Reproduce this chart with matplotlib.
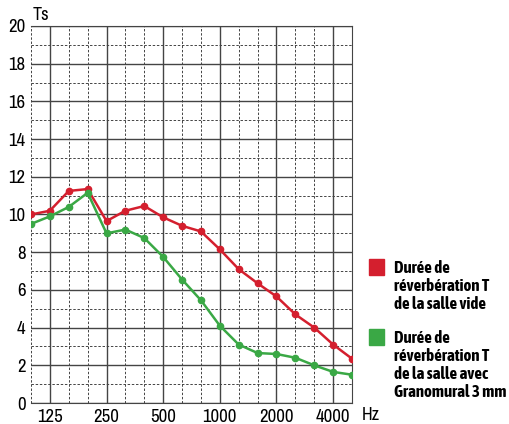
import numpy as np
import matplotlib
matplotlib.use("Agg")
import matplotlib.pyplot as plt
from matplotlib.patches import Rectangle
from matplotlib import font_manager

fonts = font_manager.fontManager.ttflist
names = sorted({f.name for f in fonts})
narrow = [n for n in names if "Narrow" in n or "Condensed" in n]


def wnum(w):
    return w if isinstance(w, int) else font_manager.weight_dict.get(w, 400)


bold_narrow = sorted({f.name for f in fonts if f.name in narrow and wnum(f.weight) >= 600})
main_font = narrow[0] if narrow else "Roboto"
legend_font = bold_narrow[0] if bold_narrow else main_font
plt.rcParams['font.family'] = [main_font, 'DejaVu Sans']

freqs = [100, 125, 160, 200, 250, 315, 400, 500, 630, 800,
         1000, 1250, 1600, 2000, 2500, 3150, 4000, 5000]
t_vide = [10.0, 10.2, 11.25, 11.35, 9.65, 10.2, 10.45, 9.85, 9.4, 9.1,
          8.15, 7.1, 6.35, 5.65, 4.7, 4.0, 3.1, 2.35]
t_grano = [9.5, 9.9, 10.4, 11.15, 9.0, 9.2, 8.75, 7.75, 6.55, 5.45,
           4.1, 3.1, 2.65, 2.6, 2.4, 2.0, 1.65, 1.5]
xlabels = ["125", "250", "500", "1000", "2000", "4000"]
legend_labels = ["Durée de\nréverbération T\nde la salle vide",
                 "Durée de\nréverbération T\nde la salle avec\nGranomural 3 mm"]

red = "#d41f2e"
green = "#3aa845"
gridc = "#444444"

fig = plt.figure(figsize=(5.1, 4.24), dpi=100)
ax = fig.add_axes([31/510, 21/424, 321/510, 377/424])

x = np.arange(len(freqs))

# grid
for i, f in enumerate(freqs):
    if str(f) in xlabels:
        ax.axvline(i, color=gridc, lw=1.0, zorder=1)
    else:
        ax.axvline(i, color=gridc, lw=0.7, ls=(0, (2.5, 1.8)), zorder=1)
for v in range(0, 21):
    if v % 2 == 0:
        ax.axhline(v, color=gridc, lw=1.0, zorder=1)
    else:
        ax.axhline(v, color=gridc, lw=0.7, ls=(0, (2.5, 1.8)), zorder=1)

ax.plot(x, t_vide, color=red, lw=1.8, marker="o", ms=4.5, zorder=3)
ax.plot(x, t_grano, color=green, lw=1.8, marker="o", ms=4.5, zorder=3)

ax.set_xlim(0, len(freqs) - 1)
ax.set_ylim(0, 20)
for s in ["top", "right", "bottom"]:
    ax.spines[s].set_color(gridc)
ax.spines["left"].set_visible(False)

ax.set_yticks(range(0, 21, 2))
ax.set_yticklabels([str(v) for v in range(0, 21, 2)], fontsize=13.5)
ax.set_xticks([freqs.index(int(l)) for l in xlabels])
ax.set_xticklabels(xlabels, fontsize=13.5)
ax.tick_params(length=0, pad=4)

fig.text(33/510, 1 - 15/424, "Ts", fontsize=13, va="center", ha="left")
fig.text(362/510, 1 - 415/424, "Hz", fontsize=13, va="center", ha="left")

# legend
for (col, lab, ysq) in [(red, legend_labels[0], 259), (green, legend_labels[1], 329)]:
    fig.patches.append(Rectangle((369/510, 1 - (ysq + 16)/424), 15/510, 16/424,
                                 transform=fig.transFigure, color=col))
    fig.text(394/510, 1 - (ysq + 1)/424, lab, fontsize=12.2, fontweight="bold",
             family=[legend_font, 'DejaVu Sans'],
             va="top", ha="left", linespacing=1.15)

fig.savefig("out.png", dpi=100)
